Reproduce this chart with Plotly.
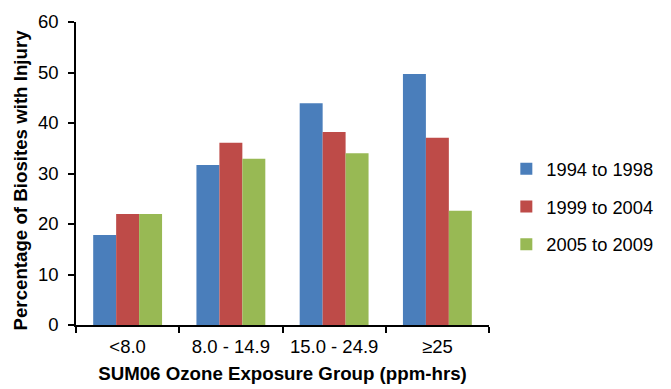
import plotly.graph_objects as go

categories = ["<8.0", "8.0 - 14.9", "15.0 - 24.9", "≥25"]
series_names = ["1994 to 1998", "1999 to 2004", "2005 to 2009"]
vals_1994_1998 = [17.8, 31.7, 43.9, 49.7]
vals_1999_2004 = [22.0, 36.1, 38.2, 37.1]
vals_2005_2009 = [22.0, 32.9, 34.0, 22.6]
colors = ["#4A7EBB", "#BE4B48", "#98B954"]

fig = go.Figure()
for name, vals, col in zip(series_names, [vals_1994_1998, vals_1999_2004, vals_2005_2009], colors):
    fig.add_trace(go.Bar(x=categories, y=vals, name=name, legendgroup=name,
                         marker=dict(color=col, line=dict(width=0))))

font = "Arial, 'Liberation Sans', sans-serif"
fig.update_layout(
    width=671, height=389,
    margin=dict(l=76, r=175, t=22, b=64),
    plot_bgcolor="white", paper_bgcolor="white",
    barmode="group", bargap=0.333, bargroupgap=0,
    font=dict(family=font, size=18.5, color="#000000"),
    legend=dict(x=1.41, xanchor="right", y=0.39, yanchor="middle",
                font=dict(size=18.3), tracegroupgap=11, itemwidth=30),
    xaxis=dict(showline=True, linecolor="black", linewidth=1.5, automargin=False,
               tickangle=0, ticklabelstandoff=4,
               ticks="outside", tickson="boundaries", ticklen=6, tickcolor="black",
               tickwidth=1.5, showgrid=False,
               title=dict(text="<b>SUM06 Ozone Exposure Group (ppm-hrs)</b>", standoff=11,
                          font=dict(size=18.7))),
    yaxis=dict(range=[0, 60], dtick=10, showline=True, linecolor="black", linewidth=1.5,
               automargin=False, ticklabelstandoff=6,
               ticks="outside", ticklen=6, tickcolor="black", tickwidth=1.5,
               showgrid=False, zeroline=False),
    annotations=[dict(text="<b>Percentage of Biosites with Injury</b>", textangle=-90,
                      xref="paper", yref="paper", x=0, y=0.5, xshift=-56, yshift=-7,
                      xanchor="center", yanchor="middle", showarrow=False,
                      font=dict(size=18.7))],
)
fig.write_html("out.html")
